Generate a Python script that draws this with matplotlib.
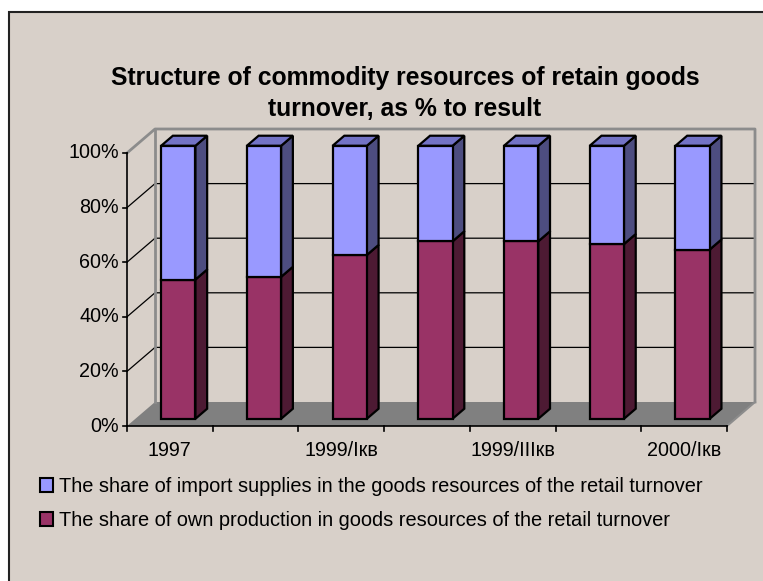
import matplotlib
matplotlib.use("Agg")
import matplotlib.pyplot as plt
from matplotlib.patches import Polygon, Rectangle, Patch

plt.rcParams["font.family"] = ["Liberation Sans", "DejaVu Sans"]

# ---- data -------------------------------------------------------------
categories = ["1997", "1998", "1999/Iкв", "1999/IIкв", "1999/IIIкв", "1999/IVкв", "2000/Iкв"]
own_production = [51, 52, 60, 65, 65, 64, 62]          # % of total
import_supplies = [100 - v for v in own_production]     # % of total
y_ticks = [0, 20, 40, 60, 80, 100]
y_tick_labels = ["0%", "20%", "40%", "60%", "80%", "100%"]
shown_labels = {0, 2, 4, 6}

series_names = [
    "The share of import supplies in the goods resources of the retail turnover",
    "The share of own production in goods resources of the retail turnover",
]

# ---- styling ----------------------------------------------------------
BG = "#D8D0C9"
WALL_EDGE = "#8C8C8C"
FLOOR = "#808080"
OWN_FRONT, OWN_SIDE = "#993366", "#4D1A33"
IMP_FRONT, IMP_SIDE, IMP_TOP = "#9999FF", "#4D4D80", "#7373C6"

W, H, DPI = 763, 581, 100
fig = plt.figure(figsize=(W / DPI, H / DPI), dpi=DPI, facecolor="white")

# chart area panel
fig.patches.append(Rectangle((9 / W, -0.05), 1.0, 1 - 12 / H + 0.05,
                             transform=fig.transFigure, facecolor=BG,
                             edgecolor="#222222", linewidth=1.5, zorder=-5))

# plot geometry: front axis origin and scale in pixels
X0_PX, Y0_PX = 127, 426
CAT_PX = 600 / len(categories)
PCT_PX = 2.73
ax = fig.add_axes([0, 0, 1, 1], zorder=2)
ax.set_xlim(-X0_PX / CAT_PX, (W - X0_PX) / CAT_PX)
ax.set_ylim(-(H - Y0_PX) / PCT_PX, Y0_PX / PCT_PX)
ax.axis("off")
ax.patch.set_alpha(0)

n = len(categories)
DX = 28 / CAT_PX    # depth offset, category units
DY = 24 / PCT_PX    # depth offset, percent units

# floor
ax.add_patch(Polygon([(0, 0), (n, 0), (n + DX, DY), (DX, DY)], closed=True,
                     facecolor=FLOOR, edgecolor="none", zorder=1))
ax.plot([n, n + DX], [0, DY], color=WALL_EDGE, lw=1.5, zorder=2)

# back wall and left wall gridlines
for t in y_ticks[1:-1]:
    ax.plot([0, DX, n + DX], [t, t + DY, t + DY], color="black", lw=0.9, zorder=1.5)
top = y_ticks[-1]
ax.plot([0, DX, n + DX, n + DX], [top, top + DY, top + DY, DY],
        color=WALL_EDGE, lw=2, zorder=1.5)
ax.plot([DX, DX], [DY, top + DY], color=WALL_EDGE, lw=2, zorder=1.5)

# front axes
ax.plot([0, 0], [0, top], color="black", lw=1.2, zorder=3)
ax.plot([0, n], [0, 0], color="black", lw=1.2, zorder=3)
tick_x = 4 / CAT_PX
tick_y = 5 / PCT_PX
for t, lab in zip(y_ticks, y_tick_labels):
    ax.plot([-tick_x, 0], [t, t], color="black", lw=1.2, zorder=3)
    ax.text(-8 / CAT_PX, t, lab, ha="right", va="center", fontsize=14.2)
for i in range(n + 1):
    ax.plot([i, i], [0, -tick_y], color="black", lw=1.2, zorder=3)
for i, lab in enumerate(categories):
    if i in shown_labels:
        ax.text(i + 0.5, -24 / PCT_PX, lab, ha="center", va="center", fontsize=14.2)

# 3-D columns
Z0, Z1 = 0.30, 0.72
BAR_W = 0.4
EDGE = dict(edgecolor="black", linewidth=1.6, joinstyle="miter")


def column_segment(xc, lo, hi, front, side, top_color=None):
    x_l = xc - BAR_W / 2 + Z0 * DX
    x_r = xc + BAR_W / 2 + Z0 * DX
    y_lo, y_hi = lo + Z0 * DY, hi + Z0 * DY
    ddx, ddy = (Z1 - Z0) * DX, (Z1 - Z0) * DY
    ax.add_patch(Polygon([(x_r, y_lo), (x_r + ddx, y_lo + ddy),
                          (x_r + ddx, y_hi + ddy), (x_r, y_hi)],
                         closed=True, facecolor=side, zorder=4, **EDGE))
    if top_color is not None:
        ax.add_patch(Polygon([(x_l, y_hi), (x_r, y_hi),
                              (x_r + ddx, y_hi + ddy), (x_l + ddx, y_hi + ddy)],
                             closed=True, facecolor=top_color, zorder=4, **EDGE))
    ax.add_patch(Polygon([(x_l, y_lo), (x_r, y_lo), (x_r, y_hi), (x_l, y_hi)],
                         closed=True, facecolor=front, zorder=5, **EDGE))


for i in range(n):
    xc = i + 0.5
    own = own_production[i]
    imp = import_supplies[i]
    column_segment(xc, 0, own, OWN_FRONT, OWN_SIDE)
    column_segment(xc, own, own + imp, IMP_FRONT, IMP_SIDE, IMP_TOP)

# title
fig.text(405 / W, 1 - 85 / H, "Structure of commodity resources of retain goods",
         ha="center", va="baseline", fontsize=17.8, fontweight="bold")
fig.text(405 / W, 1 - 116 / H, "turnover, as % to result",
         ha="center", va="baseline", fontsize=17.8, fontweight="bold")

# legend
handles = [Patch(facecolor=IMP_FRONT, edgecolor="black", linewidth=1.5),
           Patch(facecolor=OWN_FRONT, edgecolor="black", linewidth=1.5)]
leg = fig.legend(handles, series_names, loc="upper left",
                 bbox_to_anchor=(40 / W, 1 - 477 / H), bbox_transform=fig.transFigure,
                 frameon=False, fontsize=14.4, handlelength=0.65, handleheight=0.65,
                 handletextpad=0.3, labelspacing=0.75, borderpad=0, borderaxespad=0)

fig.savefig("out.png", dpi=DPI, facecolor="white")
